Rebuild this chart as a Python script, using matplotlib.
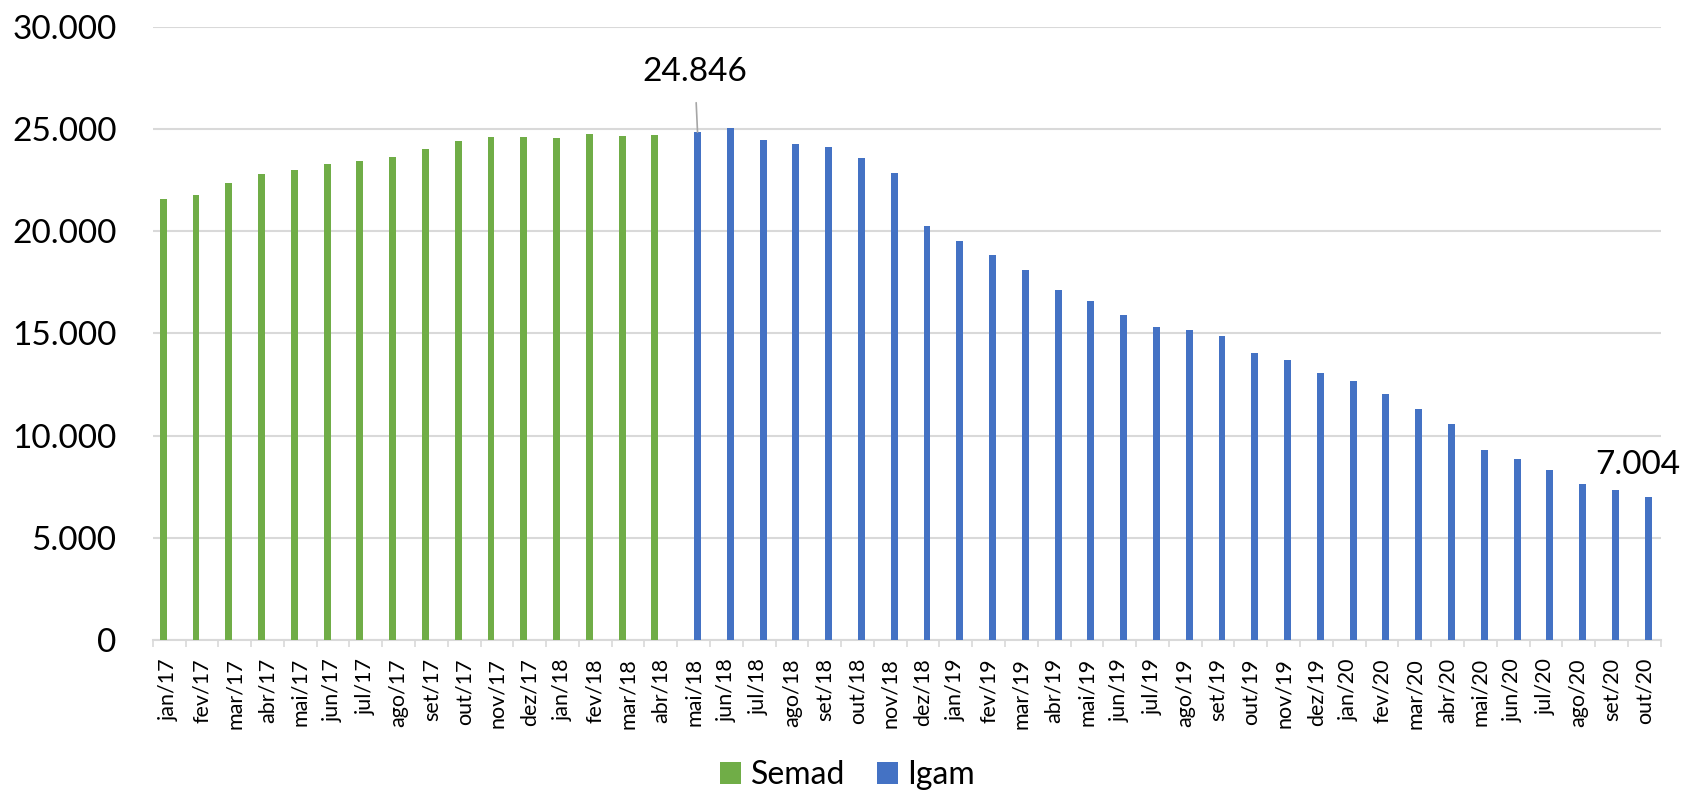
import matplotlib
matplotlib.use("Agg")
import matplotlib.pyplot as plt
from matplotlib.ticker import FuncFormatter, FixedLocator
import numpy as np

months = ["jan/17", "fev/17", "mar/17", "abr/17", "mai/17", "jun/17", "jul/17", "ago/17",
          "set/17", "out/17", "nov/17", "dez/17", "jan/18", "fev/18", "mar/18", "abr/18",
          "mai/18", "jun/18", "jul/18", "ago/18", "set/18", "out/18", "nov/18", "dez/18",
          "jan/19", "fev/19", "mar/19", "abr/19", "mai/19", "jun/19", "jul/19", "ago/19",
          "set/19", "out/19", "nov/19", "dez/19", "jan/20", "fev/20", "mar/20", "abr/20",
          "mai/20", "jun/20", "jul/20", "ago/20", "set/20", "out/20"]

semad_months = months[:16]
semad_values = [21600, 21750, 22370, 22780, 23020, 23290, 23430, 23640,
                24020, 24410, 24610, 24590, 24540, 24770, 24670, 24730]

igam_months = months[16:]
igam_values = [24846, 25030, 24440, 24290, 24120, 23580, 22860, 20250,
               19500, 18830, 18115, 17120, 16580, 15890, 15330, 15180,
               14850, 14040, 13700, 13060, 12650, 12030, 11300, 10565,
               9275, 8850, 8300, 7640, 7316, 7004]

green = "#70AD47"
blue = "#4472C4"
grid_c = "#D9D9D9"

fig = plt.figure(figsize=(16.82, 7.92), dpi=100)
ax = fig.add_axes([0.0908, 0.1919, 0.8965, 0.7742])

pos = {m: i for i, m in enumerate(months)}
xs_s = np.array([pos[m] for m in semad_months])
xs_i = np.array([pos[m] for m in igam_months])
bw = 0.21
ax.bar(xs_s - 0.18, semad_values, width=bw, color=green, label="Semad", zorder=3)
ax.bar(xs_i + 0.12, igam_values, width=bw, color=blue, label="Igam", zorder=3)

ax.set_xlim(-0.5, len(months) - 0.5)
ax.set_ylim(0, 30000)
ax.set_yticks(np.arange(0, 30001, 5000))
ax.yaxis.set_major_formatter(FuncFormatter(lambda v, p: f"{int(v):,}".replace(",", ".")))
ax.grid(axis="y", color=grid_c, lw=1.5, zorder=0)
for s in ["top", "right", "left"]:
    ax.spines[s].set_visible(False)
ax.spines["bottom"].set_color(grid_c)
ax.spines["bottom"].set_linewidth(1.5)
ax.tick_params(axis="y", length=0, pad=26, labelsize=24)
for t in ax.get_yticklabels():
    t.set_fontfamily("Lato")

ax.set_xticks(range(len(months)))
ax.set_xticklabels(months, rotation=90, fontsize=15.5, fontfamily="Lato")
ax.tick_params(axis="x", which="major", length=0, pad=13)
ax.xaxis.set_minor_locator(FixedLocator(np.arange(-0.5, len(months), 1)))
ax.tick_params(axis="x", which="minor", length=5, color=grid_c, width=1.2)

# data labels
i_max = igam_months.index("mai/18")
ax.annotate(f"{igam_values[i_max]:,}".replace(",", "."),
            xy=(xs_i[i_max] + 0.12, igam_values[i_max]),
            xytext=(-2, 43), textcoords="offset points",
            ha="center", va="center", fontsize=24, fontfamily="Lato",
            arrowprops=dict(arrowstyle="-", color="#A6A6A6", lw=1.2, shrinkA=9, shrinkB=0))
ax.annotate(f"{igam_values[-1]:,}".replace(",", "."),
            xy=(xs_i[-1] + 0.12, igam_values[-1]),
            xytext=(-7.5, 23), textcoords="offset points",
            ha="center", va="center", fontsize=24, fontfamily="Lato",
            annotation_clip=False)

leg = fig.legend(loc="center", bbox_to_anchor=(0.504, 0.021), ncol=2, frameon=False,
                 prop={"family": "Lato", "size": 23}, handlelength=0.66, handleheight=0.66,
                 handletextpad=0.31, columnspacing=0.97)

fig.savefig("out.png", dpi=100)
